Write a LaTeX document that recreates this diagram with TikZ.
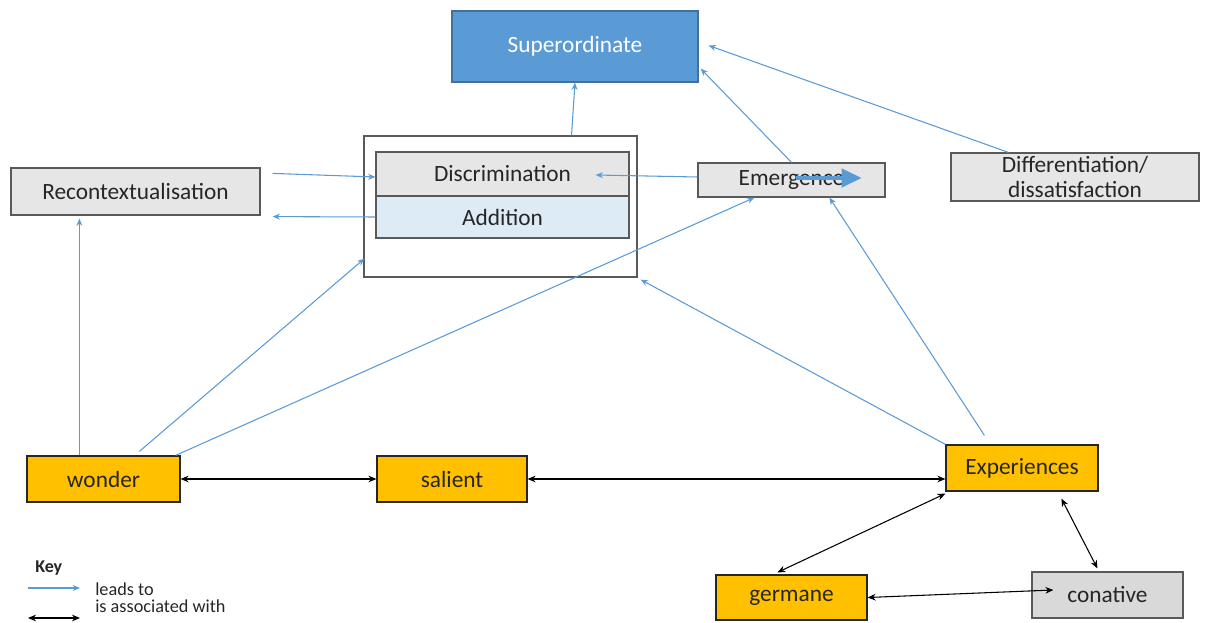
\documentclass[tikz,border=0pt]{standalone}
\usepackage{fontspec}
\setmainfont{Carlito}
\usetikzlibrary{arrows.meta,calc}

\definecolor{leadblue}{HTML}{5B9BD5}
\definecolor{supfill}{HTML}{5B9BD5}
\definecolor{supedge}{HTML}{41719C}
\definecolor{greyfill}{HTML}{E7E6E6}
\definecolor{conafill}{HTML}{D9D9D9}
\definecolor{addfill}{HTML}{DDEBF7}
\definecolor{gold}{HTML}{FFC000}
\definecolor{edge}{HTML}{595959}
\definecolor{ink}{HTML}{262626}

\tikzset{
  base/.style={rectangle, draw=edge, line width=0.9pt, inner sep=0pt,
    font=\fontsize{17.5}{20}\selectfont, text=ink, align=center},
  greybox/.style={base, fill=greyfill},
  goldbox/.style={base, fill=gold, draw=ink},
  leads/.style={draw=leadblue, line width=0.8pt,
    -{Stealth[length=5.5pt,width=4.5pt]}},
  assoc/.style={draw=black, line width=0.8pt,
    {Stealth[length=6pt,width=5pt]}-{Stealth[length=6pt,width=5pt]}},
  keytext/.style={font=\fontsize{13.7}{15}\selectfont, text=ink, anchor=west, inner sep=0pt}
}

\begin{document}
\begin{tikzpicture}[x=0.75pt,y=-0.75pt]
\useasboundingbox (0,0) rectangle (1205,623);

% top concept
\node[base, fill=supfill, draw=supedge, text=white, minimum width=184.5pt, minimum height=53.25pt]
  (sup) at (575,46.5) {Superordinate};

% container with the two processes
\node[rectangle, draw=edge, line width=0.9pt, fill=white, minimum width=204.75pt, minimum height=105.75pt]
  (outer) at (500.5,206.5) {};
\node[greybox, minimum width=189.75pt, minimum height=33pt] (disc) at (502.5,174) {Discrimination};
\node[base, fill=addfill, minimum width=189.75pt, minimum height=31.5pt] (add) at (502.5,217) {Addition};

% grey concepts
\node[greybox, minimum width=186.75pt, minimum height=35.25pt] (recon) at (135.5,191.5) {Recontextualisation};
\node[greybox, minimum width=140.25pt, minimum height=25.5pt] (emg) at (791.5,180) {Emergence};
\node[greybox, minimum width=186pt, minimum height=36pt, font=\fontsize{17.5}{19}\selectfont]
  (diff) at (1075,177) {Differentiation/\\dissatisfaction};

% gold concepts
\node[goldbox, minimum width=114.75pt, minimum height=34.5pt] (wonder) at (103.5,479) {wonder};
\node[goldbox, minimum width=112.5pt, minimum height=34.5pt] (salient) at (452,479) {salient};
\node[goldbox, minimum width=114pt, minimum height=34.5pt] (exp) at (1022,468) {Experiences};
\node[goldbox, minimum width=113.25pt, minimum height=33.75pt] (germ) at (791.5,597.5) {germane};
\node[base, fill=conafill, minimum width=113.25pt, minimum height=34.5pt] (con) at (1107.5,595) {conative};

% "leads to" connectors
\draw[leads] ($(outer.north)+(71,0)$) -- (sup.south);
\draw[leads] (emg.north) -- ($(sup.south east)+(2,-14)$);
\draw[leads] ($(diff.north west)+(58,0)$) -- ($(sup.east)+(10,-1)$);
\draw[leads] ($(recon.north east)+(12,6)$) -- ($(disc.west)+(0,3)$);
\draw[leads] (add.west) -- ($(recon.south east)+(12,1)$);
\draw[leads] ($(emg.west)+(0,-3)$) -- ($(disc.east)+(-34,1)$);
\draw[leads] ($(wonder.north west)+(53,0)$) -- ($(recon.south west)+(69,3)$);
\draw[leads] ($(wonder.north west)+(113,-4)$) -- ($(outer.south west)+(1,-19)$);
\draw[leads] ($(wonder.north east)+(-5,0)$) -- ($(emg.south west)+(57,0)$);
\draw[leads] (exp.north west) -- ($(outer.south east)+(3,2)$);
\draw[leads] ($(exp.north west)+(39,-9)$) -- ($(emg.south west)+(132,0)$);

% bold arrow over Emergence
\draw[draw=leadblue, line width=2.4pt, -{Triangle[length=15pt,width=14pt]}]
  ($(emg.center)+(4,-2)$) -- ($(emg.center)+(70,-2)$);

% "is associated with" connectors
\draw[assoc] (wonder.east) -- (salient.west);
\draw[assoc] (salient.east) -- (salient.east -| exp.west);
\draw[assoc] ($(exp.south west)+(0,2)$) -- ($(germ.north west)+(62,-2)$);
\draw[assoc] ($(exp.south west)+(116,7)$) -- ($(con.north west)+(66,-3)$);
\draw[assoc] (germ.east) -- ($(con.west)+(22,-5)$);

% key
\node[anchor=west, inner sep=0pt, font=\bfseries\fontsize{13.5}{15}\selectfont, text=ink] (keyhead) at (35,568) {Key};
\coordinate (k1a) at (28,588);
\coordinate (k1b) at (80,588);
\coordinate (k2a) at (28,618);
\coordinate (k2b) at (80,618);
\draw[leads] (k1a) -- (k1b);
\draw[assoc] (k2a) -- (k2b);
\node[keytext] (keylead) at (95,589) {leads to};
\node[keytext] (keyassoc) at (95,606) {is associated with};
\end{tikzpicture}
\end{document}
